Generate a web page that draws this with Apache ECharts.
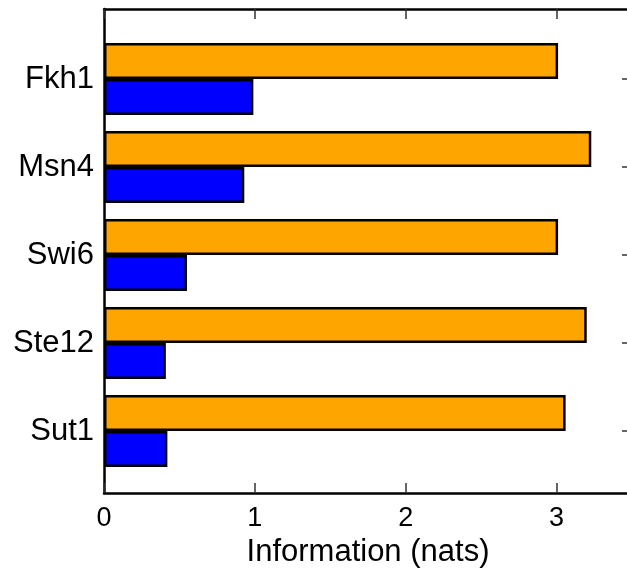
<!DOCTYPE html>
<html>
<head>
<meta charset="utf-8">
<script src="https://cdn.jsdelivr.net/npm/echarts@6/dist/echarts.min.js"></script>
<style>
html, body { margin: 0; padding: 0; background: #fff; }
#chart { width: 627px; height: 575px; }
</style>
</head>
<body>
<div id="chart"></div>
<script>
var categories = ['Fkh1', 'Msn4', 'Swi6', 'Ste12', 'Sut1'];
var orangeValues = [3.01, 3.23, 3.01, 3.2, 3.06];
var blueValues = [0.99, 0.93, 0.55, 0.41, 0.42];
var xTicks = [0, 1, 2, 3];

var chart = echarts.init(document.getElementById('chart'));
var font = 'Liberation Sans, Arial, sans-serif';
var barBorder = { borderColor: '#000', borderWidth: 2.5 };
var frameLine = { show: true, onZero: false, lineStyle: { color: '#000', width: 2.5 } };
var tickStyle = { color: '#333', width: 1.5 };

var option = {
    animation: false,
    grid: [
        { left: 104, width: 528, top: 35, height: 440, outerBoundsMode: 'none', containLabel: false },
        { left: 104, width: 528, top: 9, height: 484, outerBoundsMode: 'none', containLabel: false }
    ],
    xAxis: [
        // bars
        { gridIndex: 0, type: 'value', min: 0, max: 3.5, show: false },
        // frame, bottom
        {
            gridIndex: 1, type: 'value', min: 0, max: 3.5, position: 'bottom',
            name: 'Information (nats)', nameLocation: 'middle', nameGap: 42,
            nameTextStyle: { fontFamily: font, fontSize: 31, color: '#000' },
            axisLine: frameLine,
            axisTick: { show: true, inside: true, length: 10, customValues: xTicks, lineStyle: tickStyle },
            axisLabel: { fontFamily: font, fontSize: 27, color: '#000', margin: 12, customValues: xTicks },
            splitLine: { show: false }
        },
        // frame, top
        {
            gridIndex: 1, type: 'value', min: 0, max: 3.5, position: 'top',
            axisLine: frameLine,
            axisTick: { show: true, inside: true, length: 10, customValues: xTicks, lineStyle: tickStyle },
            axisLabel: { show: false },
            splitLine: { show: false }
        }
    ],
    yAxis: [
        {
            gridIndex: 0, type: 'category', data: categories, inverse: true, position: 'left',
            axisLine: { show: false },
            axisTick: { show: false },
            axisLabel: { fontFamily: font, fontSize: 31, color: '#000', margin: 10 }
        },
        {
            gridIndex: 0, type: 'category', data: categories, inverse: true, position: 'right',
            axisLine: { show: false },
            axisTick: { show: true, inside: true, alignWithLabel: true, length: 10, lineStyle: tickStyle },
            axisLabel: { show: false }
        },
        {
            gridIndex: 1, type: 'value', position: 'left', min: 0, max: 1,
            axisLine: frameLine,
            axisTick: { show: false }, axisLabel: { show: false }, splitLine: { show: false }
        },
        {
            gridIndex: 1, type: 'value', position: 'right', min: 0, max: 1,
            axisLine: frameLine,
            axisTick: { show: false }, axisLabel: { show: false }, splitLine: { show: false }
        }
    ],
    series: [
        {
            type: 'bar', xAxisIndex: 0, yAxisIndex: 0, data: orangeValues,
            barWidth: 36, barGap: '0%',
            itemStyle: Object.assign({ color: '#FFA500' }, barBorder)
        },
        {
            type: 'bar', xAxisIndex: 0, yAxisIndex: 0, data: blueValues,
            barWidth: 36, barGap: '0%',
            itemStyle: Object.assign({ color: '#0000FF' }, barBorder)
        }
    ]
};
chart.setOption(option);
</script>
</body>
</html>
